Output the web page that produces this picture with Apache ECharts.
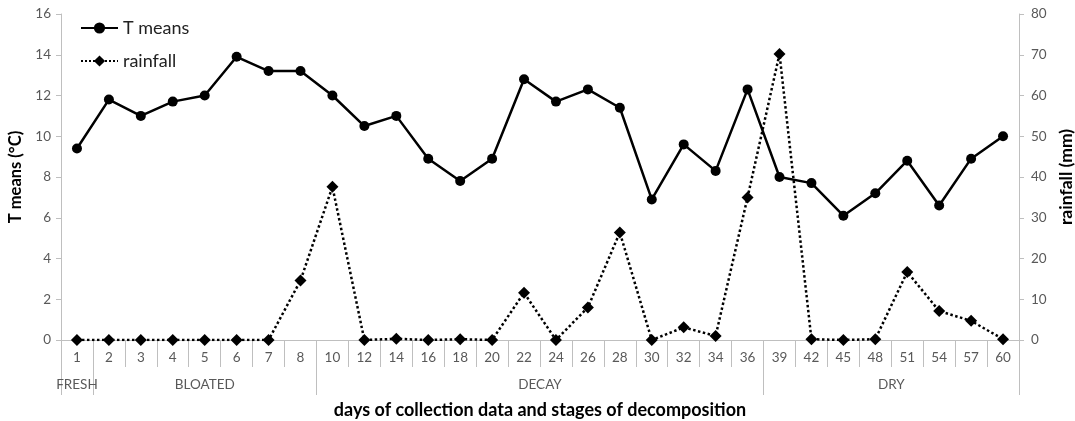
<!DOCTYPE html>
<html>
<head>
<meta charset="utf-8">
<script src="https://cdn.jsdelivr.net/npm/echarts@6/dist/echarts.min.js"></script>
<style>html,body{margin:0;padding:0;background:#fff}#c{width:1075px;height:421px}</style>
</head>
<body>
<div id="c"></div>
<script>
var days = ['1','2','3','4','5','6','7','8','10','12','14','16','18','20','22','24','26','28','30','32','34','36','39','42','45','48','51','54','57','60'];
var tMeans = [9.4,11.8,11.0,11.7,12.0,13.9,13.2,13.2,12.0,10.5,11.0,8.9,7.8,8.9,12.8,11.7,12.3,11.4,6.9,9.6,8.3,12.3,8.0,7.7,6.1,7.2,8.8,6.6,8.9,10.0];
var rainfall = [0,0,0,0,0,0,0,14.6,37.6,0,0.3,0,0.2,0,11.6,0,8.0,26.4,0,3.1,1.0,35.0,70.2,0.2,0,0.2,16.7,7.1,4.7,0.2];
var stages = ['FRESH','BLOATED','DECAY','DRY'];
var stageCounts = [1,7,14,8];
var leftTicks = [0,16,2];   // min, max, interval
var rightTicks = [0,80,10];

// stage boundaries and centers (in category units)
var bounds = [0], centers = [], acc = 0;
stageCounts.forEach(function(n){ centers.push(acc + n/2); acc += n; bounds.push(acc); });

var FONT = 'Lato';
var chart = echarts.init(document.getElementById('c'));
chart.setOption({
  animation: false,
  textStyle: {fontFamily: FONT},
  grid: {left: 61, right: 56, top: 14, bottom: 81, outerBoundsMode: 'none', containLabel: false},
  legend: {
    orient: 'vertical', left: 75, top: 14, itemWidth: 37, itemHeight: 14, itemGap: 15,
    textStyle: {fontFamily: FONT, fontSize: 18, color: '#222'},
    data: ['T means', 'rainfall']
  },
  xAxis: [{
    type: 'category', data: days, boundaryGap: true, position: 'bottom',
    axisLine: {lineStyle: {color: '#bfbfbf', width: 1}},
    axisTick: {show: true, interval: 0, length: 27, lineStyle: {color: '#bfbfbf'}},
    axisLabel: {interval: 0, color: '#595959', fontSize: 13.5, margin: 11, fontFamily: FONT},
    splitLine: {show: false}
  }, {
    type: 'value', min: 0, max: days.length, position: 'bottom',
    axisLine: {show: false},
    axisTick: {show: true, customValues: bounds, length: 55, lineStyle: {color: '#bfbfbf'}},
    axisLabel: {
      customValues: centers, color: '#595959', fontSize: 13.5, margin: 38, fontFamily: FONT,
      formatter: function(v){ var i = centers.indexOf(v); return i >= 0 ? stages[i] : ''; }
    },
    splitLine: {show: false},
    name: 'days of collection data and stages of decomposition',
    nameLocation: 'middle', nameGap: 61,
    nameTextStyle: {fontFamily: FONT, fontSize: 18, fontWeight: 'bold', color: '#000'}
  }],
  yAxis: [{
    type: 'value', min: leftTicks[0], max: leftTicks[1], interval: leftTicks[2],
    axisLine: {show: true, lineStyle: {color: '#bfbfbf'}},
    axisTick: {show: true, length: 5, lineStyle: {color: '#bfbfbf'}},
    axisLabel: {color: '#595959', fontSize: 13.5, margin: 10, fontFamily: FONT},
    splitLine: {show: false},
    name: 'T means (°C)', nameLocation: 'middle', nameGap: 29,
    nameTextStyle: {fontFamily: FONT, fontSize: 16.5, fontWeight: 'bold', color: '#000'}
  }, {
    type: 'value', min: rightTicks[0], max: rightTicks[1], interval: rightTicks[2], position: 'right',
    axisLine: {show: true, lineStyle: {color: '#bfbfbf'}},
    axisTick: {show: true, length: 5, lineStyle: {color: '#bfbfbf'}},
    axisLabel: {color: '#595959', fontSize: 13.5, margin: 12, fontFamily: FONT},
    splitLine: {show: false},
    name: 'rainfall (mm)', nameLocation: 'middle', nameGap: 36,
    nameTextStyle: {fontFamily: FONT, fontSize: 17.5, fontWeight: 'bold', color: '#000'}
  }],
  series: [{
    name: 'T means', type: 'line', data: tMeans, xAxisIndex: 0, yAxisIndex: 0,
    symbol: 'circle', symbolSize: 10,
    lineStyle: {color: '#000', width: 2.5},
    itemStyle: {color: '#000'}, z: 3
  }, {
    name: 'rainfall', type: 'line', data: rainfall, xAxisIndex: 0, yAxisIndex: 1,
    symbol: 'diamond', symbolSize: 12,
    lineStyle: {color: '#000', width: 2.5, type: 'dotted'},
    itemStyle: {color: '#000'}, z: 2
  }]
});
</script>
</body>
</html>
